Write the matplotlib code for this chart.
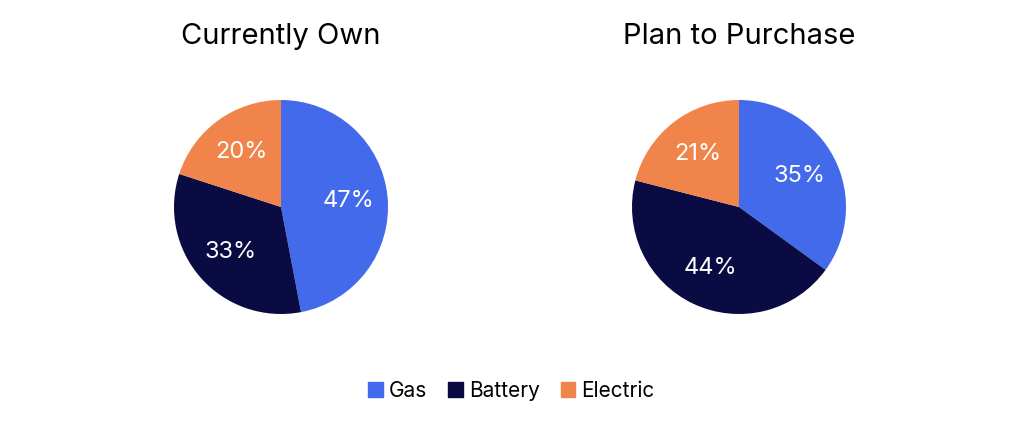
import matplotlib.pyplot as plt
from matplotlib.patches import Patch

plt.rcParams['font.family'] = ['Inter', 'DejaVu Sans']

categories = ['Gas', 'Battery', 'Electric']
colors = ['#426AEA', '#0A0B42', '#F0844A']
own = [47, 33, 20]
plan = [35, 44, 21]
titles = ['Currently Own', 'Plan to Purchase']

fig = plt.figure(figsize=(10.23, 4.24), dpi=100)
w, h = 214 / 1023, 214 / 424
for cx, vals, title in [(281, own, titles[0]), (739, plan, titles[1])]:
    ax = fig.add_axes([cx / 1023 - w / 2, 1 - 207 / 424 - h / 2, w, h])
    ax.pie(vals, colors=colors, startangle=90, counterclock=False,
           autopct='%d%%', pctdistance=0.63,
           textprops=dict(color='white', fontsize=17))
    ax.set_xlim(-1, 1)
    ax.set_ylim(-1, 1)
    ax.set_aspect('equal')
    fig.text(cx / 1023, 1 - 36 / 424, title, ha='center', va='center', fontsize=21)

handles = [Patch(color=c, label=l) for c, l in zip(colors, categories)]
fig.legend(handles=handles, loc='center', bbox_to_anchor=(0.5, 1 - 391 / 424),
           ncol=3, frameon=False, fontsize=15, handlelength=0.7, handleheight=0.7,
           handletextpad=0.3, columnspacing=1.0)
fig.savefig('out.png', dpi=100)
